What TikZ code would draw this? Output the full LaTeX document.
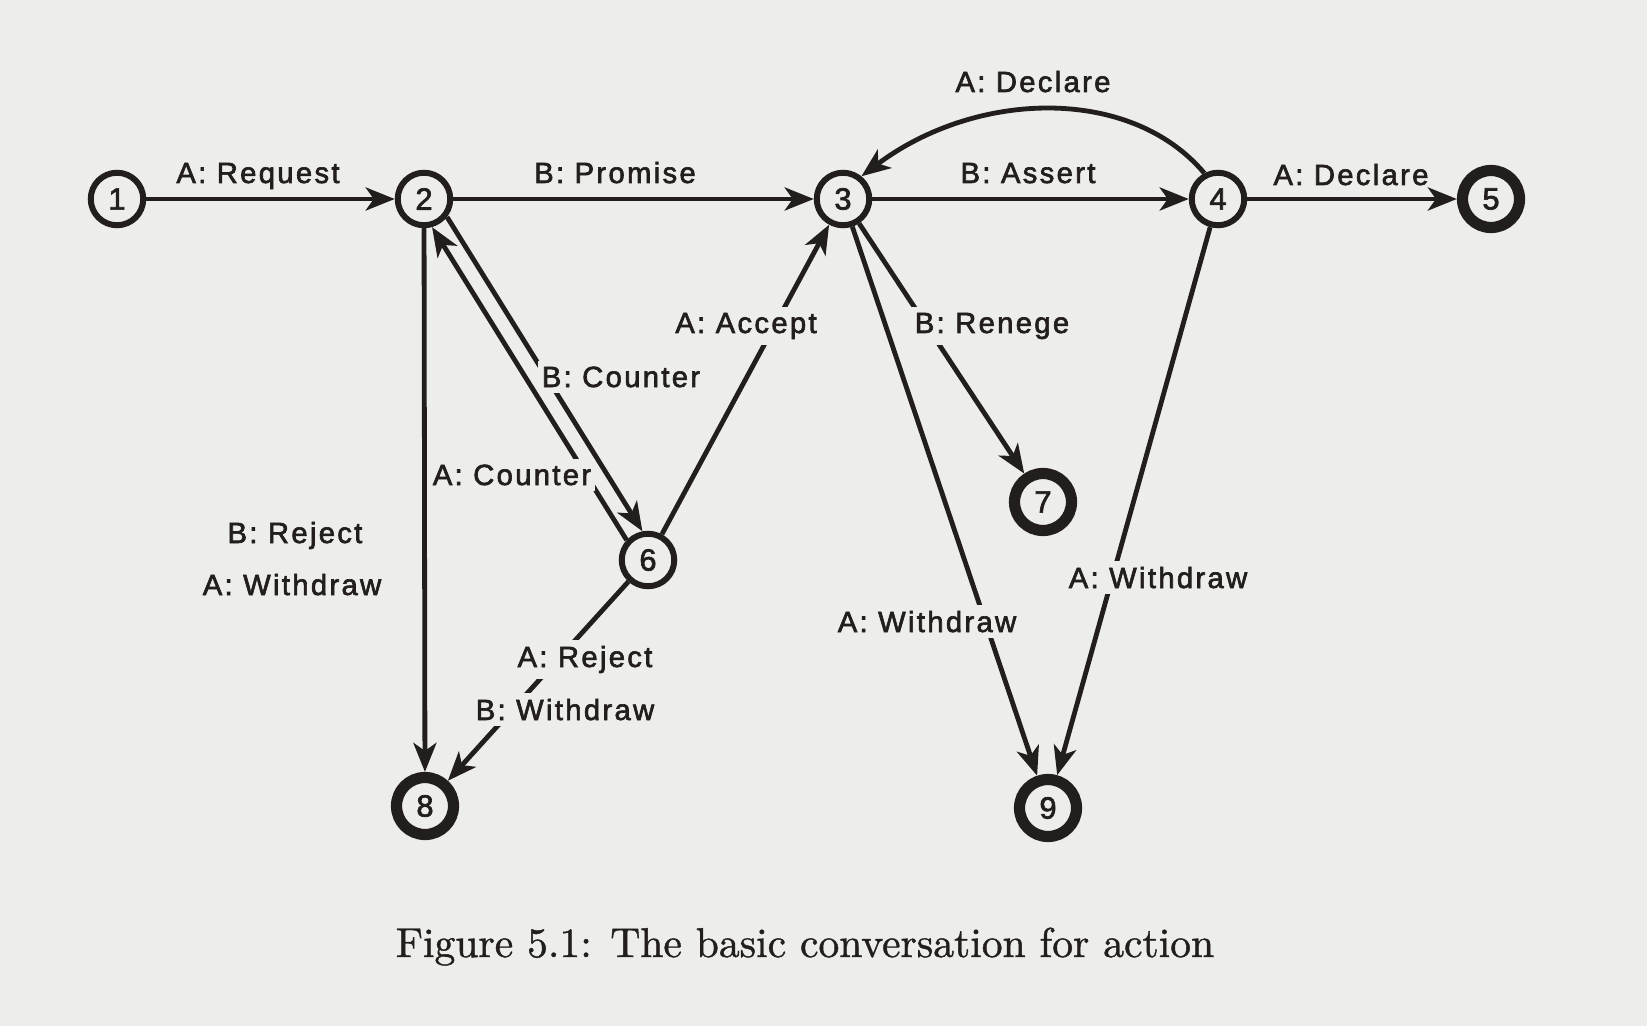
\documentclass[tikz,border=0pt]{standalone}
\usepackage{fontspec}
\usetikzlibrary{arrows.meta}
\newfontfamily\labfont[LetterSpace=8,FakeBold=2.2]{Liberation Sans}
\newfontfamily\numfont[FakeBold=2.2]{Liberation Sans}
\newfontfamily\capfont[FakeBold=1]{lmroman10-regular.otf}
\definecolor{paper}{RGB}{237,237,235}
\definecolor{ink}{RGB}{34,30,30}
\begin{document}
\begin{tikzpicture}[x=0.5pt,y=-0.5pt,
  snode/.style={circle, draw=ink, line width=3pt, minimum size=26.25pt, inner sep=0pt,
    text=ink, font=\numfont\fontsize{15.4}{15.4}\selectfont},
  fnode/.style={snode, line width=5.6pt, minimum size=28.5pt},
  conn/.style={draw=ink, line width=2.4pt, -{Stealth[length=14.5pt,width=11.5pt,inset=4pt]}},
  lab/.style={anchor=base, inner xsep=2pt, inner ysep=3pt, text=ink,
    font=\labfont\fontsize{14.6}{15}\selectfont},
  labgap/.style={lab, fill=paper},
  capt/.style={anchor=base, text=ink, font=\capfont\fontsize{20.8}{25}\selectfont}]
\fill[paper] (0,0) rectangle (1647,1026);
\useasboundingbox (0,0) rectangle (1647,1026);
% states
\node[snode] (n1) at (117,199) {1};
\node[snode] (n2) at (424,199) {2};
\node[snode] (n3) at (843,199) {3};
\node[snode] (n4) at (1218,199) {4};
\node[fnode] (n5) at (1491,199) {5};
\node[snode] (n6) at (648,560) {6};
\node[fnode] (n7) at (1043,502) {7};
\node[fnode] (n8) at (425,806) {8};
\node[fnode] (n9) at (1048,808) {9};
% connectors
\draw[conn] (n1) -- (n2);
\draw[conn] (n2) -- (n3);
\draw[conn] (n3) -- (n4);
\draw[conn] (n4) -- (n5);
\draw[conn] (n4.118) .. controls +(130:57pt) and +(37:72pt) .. (n3.51);
\draw[conn] (n2) -- (n8);
\draw[conn] (n6.137.8) -- (n2.-74.2);
\draw[conn] (n2.-38) -- (n6.101.6);
\draw[conn] (n6) -- (n3);
\draw[conn] (n6) -- (n8);
\draw[conn] (n3) -- (n7);
\draw[conn] (n3) -- (n9);
\draw[conn] (n4) -- (n9);
% labels
\node[lab] (l1) at (258,183) {A: Request};
\node[lab] (l2) at (615,183) {B: Promise};
\node[lab] (l3) at (1028,183) {B: Assert};
\node[lab] (l4) at (1351,185) {A: Declare};
\node[lab] (l5) at (1033,92) {A: Declare};
\node[labgap] (l6) at (746,333) {A: Accept};
\node[labgap] (l7) at (621,387) {B: Counter};
\node[labgap] (l8) at (512,485) {A: Counter};
\node[lab] (l9) at (295,543) {B: Reject};
\node[lab] (l10) at (292,595) {A: Withdraw};
\node[labgap] (l11) at (585,667) {A: Reject};
\node[labgap] (l12) at (565,720) {B: Withdraw};
\node[labgap] (l13) at (992,333) {B: Renege};
\node[labgap] (l14) at (927,632) {A: Withdraw};
\node[labgap] (l15) at (1158,588) {A: Withdraw};
\node[capt] (cap) at (805,957) {Figure 5.1: The basic conversation for action};
\end{tikzpicture}
\end{document}
